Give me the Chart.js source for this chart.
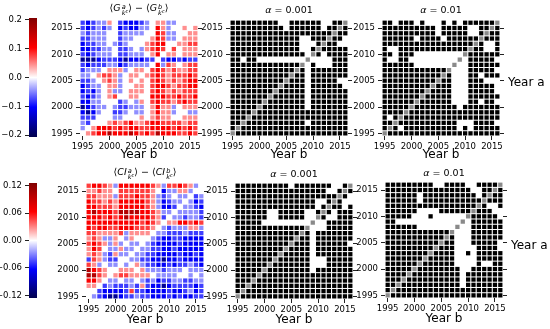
<!DOCTYPE html>
<html>
<head>
<meta charset="utf-8">
<script src="https://cdn.jsdelivr.net/npm/chart.js@4.4.0/dist/chart.umd.min.js"></script>
<style>
body { margin: 0; width: 550px; height: 329px; position: relative; overflow: hidden; background: #fff; font-family: "DejaVu Sans"; }
canvas, .t { position: absolute; }
.t { font-size: 9.5px; white-space: nowrap; transform: translate(-50%, -50%); color: #000; line-height: 1; }
.lab { position: absolute; font-size: 12px; color: #000; white-space: nowrap; line-height: 1; transform: translateY(-50%); }
.ss { display: inline-flex; flex-direction: column; font-size: 0.7em; line-height: 1; vertical-align: 0.35em; margin-left: 1px; }
.ss sup { font-size: 0.75em; vertical-align: 0.45em; line-height: 0; }
</style>
</head>
<body>
<canvas id="cb1" width="40" height="135" style="left:0;top:10px"></canvas>
<canvas id="h1" width="154" height="152" style="left:50px;top:12px"></canvas>
<canvas id="h2" width="154" height="152" style="left:200px;top:12px"></canvas>
<canvas id="h3" width="154" height="152" style="left:352px;top:12px"></canvas>
<canvas id="cb2" width="40" height="131" style="left:0;top:175px"></canvas>
<canvas id="h4" width="154" height="154" style="left:56px;top:175px"></canvas>
<canvas id="h5" width="154" height="154" style="left:205px;top:175px"></canvas>
<canvas id="h6" width="154" height="154" style="left:355px;top:174px"></canvas>

<div class="t" style="left:139px;top:10px">⟨<i>G</i><span class="ss"><i>a</i><span><i>k</i><sup><i>c</i></sup></span></span>⟩ − ⟨<i>G</i><span class="ss"><i>b</i><span><i>k</i><sup><i>c</i></sup></span></span>⟩</div>
<div class="t" style="left:289px;top:10px"><i>α</i> = 0.001</div>
<div class="t" style="left:441px;top:10px"><i>α</i> = 0.01</div>
<div class="t" style="left:145px;top:174px">⟨<i>CI</i><span class="ss"><i>a</i><span><i>k</i><sup><i>c</i></sup></span></span>⟩ − ⟨<i>CI</i><span class="ss"><i>b</i><span><i>k</i><sup><i>c</i></sup></span></span>⟩</div>
<div class="t" style="left:294px;top:174px"><i>α</i> = 0.001</div>
<div class="t" style="left:444px;top:173px"><i>α</i> = 0.01</div>
<div class="lab" style="left:508px;top:82px">Year a</div>
<div class="lab" style="left:511px;top:245px">Year a</div>

<script>
var years = [1995, 1996, 1997, 1998, 1999, 2000, 2001, 2002, 2003, 2004, 2005,
             2006, 2007, 2008, 2009, 2010, 2011, 2012, 2013, 2014, 2015, 2016];
var tickYears = [1995, 2000, 2005, 2010, 2015];
var gTicks = [-0.2, -0.1, 0, 0.1, 0.2];
var ciTicks = [-0.12, -0.06, 0, 0.06, 0.12];

// difference cells: one string per Year a (2016 at top), one char per Year b (1995 first)
// shade as a fraction of the colour range
var shade = { N: -0.8, B: -0.52, b: -0.38, l: -0.22, '0': 0, p: 0.22, r: 0.38, R: 0.52, D: 0.8 };

var gDiff = [
  "bBbllp0bBBBbl0ppll0000",
  "bBblbl0BbBBll0Rpl00p0p",
  "lblll00bllll00Rrll00pp",
  "bblll00bll000pRrll0ppp",
  "Bbbll0lbl000prRR00pprr",
  "BBbbll0bbl0lprRr0r0ppp",
  "bBblll0bblll0pR0pp0ppp",
  "NNNBbbbBNBBBbb0bBBbBbb",
  "bBbbbllBbllll0Rlrp0prr",
  "blll0pppl0pp0rRrprpprr",
  "ll0prrpl0pp0prRrprrrRr",
  "bbl0prpl0p0p0rRrprprRR",
  "Bbll0ppl00pp0rRRrprrRR",
  "BbBl0pll0ppp0rRrprprrr",
  "bBbl0pr00pp00RRRrrRrrR",
  "BBll000bl0lp0rRrrprRrr",
  "NBbll0lbblll0pRppl0ppp",
  "BNBl00bbl0ll0pRppl00ll",
  "bbb000ll000p0prpp00ppp",
  "lb000prprRpprRRrrrrprr",
  "l0pRRRrRrRRrrRRRRrRrRr",
  "0prRRDRRRDRrRrDRRRrrRr"
];

var ciDiff = [
  "rRRrplRRRRRRrplrrRrpl0",
  "pprpp0rrrrrrp0Bllppl00",
  "rrppplrrrRrrplbl0ll0bl",
  "RrrprpRRRRRrplBbll0lBb",
  "RRrrrpRRRRRrplBBb0llbB",
  "RDRRRrDDDDRRrpll0llllb",
  "RRRrRrRDRRRRrpb0llbllb",
  "RRRRRRRRRRrRrp0ppRRrRr",
  "RrRRrrRRRrrrp0lblllppl",
  "rrpppprlpppp0llbbblbbb",
  "prpllp0lp000lbBBbbBBBB",
  "rRrplpl0ll0lbBBBBbBBBB",
  "pRr0llpll0llbbBBbBBBBB",
  "prplbpll0llbbBBBBbBBbB",
  "brplbb00llbbBBNBBbBBBB",
  "rpl0ll0l0plbbBBbBbblbB",
  "DRrp00ppp0plllblll0lll",
  "DDrp0prrpppp0llll00l0l",
  "RRp0ll0ll0lblBbbllbbll",
  "pp0blbbblbpbBBNBbbbbBb",
  "00bBBBBbrbbBBBBbBBblBb",
  "0lbBNNBbblbbBBBbBbBBbb"
];

// significance cells: # significant, . not significant, g same year
var gSig001 = [
  "#########..######..##g",
  "##########.######.##g#",
  "###################g##",
  "#############..###g##.",
  "#############...#g##..",
  "#############..#g#####",
  "##############.g#.####",
  "##.##.........g....###",
  "#############g.#...###",
  "############g#.#######",
  "###########g##.#######",
  "##########g###.#####..",
  "#########g####.######.",
  "########g#####.#######",
  "#######g######.#######",
  "######g#######.#######",
  "#####g########.#######",
  "####g#################",
  "###g##################",
  "##g###########.#######",
  "#g####################",
  "g#####################"
];

var gSig01 = [
  "##.###.#...#.#.######g",
  "##########.#####..##g#",
  "##########.#####..#g##",
  "######.####.######g###",
  "#################g#..#",
  "#..#############g##..#",
  "##.###.........g######",
  "#..##.........g.#####.",
  "######.......g..######",
  "############g...#####.",
  "###########g#...##.###",
  "##########g##...###...",
  "#########g###...#####.",
  "########g####...#####.",
  "#######g#####...######",
  "######g######...##.##.",
  "#####g########.#######",
  "####g#################",
  "#.#g##################",
  "##g###########...####.",
  "#g#.##########.#.#####",
  "g#####################"
];

var ciSig001 = [
  "##########.#######..#g",
  "#################..#g#",
  "###################g#.",
  "###############..#g#..",
  "###############.#g##.#",
  "######..#####..#g#.###",
  "######..#####..g#..###",
  "#####.........g..#####",
  "#############g...#####",
  "############g#.#######",
  "###########g##.#######",
  "##########g###.######.",
  "#########g####.#######",
  "########g#####.#######",
  "#######g######...#####",
  "######g#######...#####",
  "#####g########.#######",
  "####g#################",
  "###g##################",
  "##g###################",
  "#g####################",
  "g#####################"
];

var ciSig01 = [
  "#########..####..####g",
  "################..##g#",
  "######.##########.#g##",
  "######.###########g###",
  "#################g#..#",
  "######....######g###..",
  "#####...#......g#####.",
  "##............g.######",
  "######.......g..######",
  "############g...######",
  "###########g#...######",
  "##########g##...#####.",
  "#########g###....####.",
  "########g####..#.#####",
  "#######g#####....#####",
  "######g######....#..##",
  "#####g########..######",
  "####g#########.#######",
  "###g##########.#######",
  "##g###########.#######",
  "#g####################",
  "g#####################"
];

Chart.defaults.font.family = "DejaVu Sans";
Chart.defaults.color = "#000";

var seismicStops = [[-1, [0, 0, 77]], [-0.5, [0, 0, 255]], [0, [255, 255, 255]], [0.5, [255, 0, 0]], [1, [128, 0, 0]]];
function seismic(u) {
  u = Math.max(-1, Math.min(1, u));
  for (var i = 1; i < seismicStops.length; i++) {
    if (u <= seismicStops[i][0]) {
      var a = seismicStops[i - 1], b = seismicStops[i], t = (u - a[0]) / (b[0] - a[0]);
      return 'rgb(' + [0, 1, 2].map(function (k) { return Math.round(a[1][k] + t * (b[1][k] - a[1][k])); }).join(',') + ')';
    }
  }
}

function diffColor(k) { return seismic(shade[k]); }
function sigColor(k) { return k === '#' ? '#000' : (k === 'g' ? '#8a8a8a' : '#fff'); }

function setTicks(list) {
  return function (s) { s.ticks = list.map(function (v) { return { value: v }; }); };
}

var tickGrid = { drawOnChartArea: false, drawTicks: true, tickLength: 4, color: '#222', lineWidth: 1 };

function heatmap(id, rows, colorOf, xh) {
  var pts = [];
  rows.forEach(function (row, r) {
    for (var c = 0; c < row.length; c++) {
      pts.push({ x: years[c], y: years[years.length - 1 - r], k: row[c] });
    }
  });
  var radius = function (ctx) {
    var a = ctx.chart.chartArea;
    if (!a) return 2;
    return ((a.right - a.left) / years.length - 1.1) / Math.SQRT2;
  };
  var lo = years[0] - 0.5, hi = years[years.length - 1] + 0.5;
  return new Chart(document.getElementById(id), {
    type: 'scatter',
    data: {
      datasets: [{
        data: pts,
        pointStyle: 'rect',
        pointRadius: radius,
        pointHoverRadius: radius,
        borderWidth: 0,
        backgroundColor: function (ctx) { return ctx.raw ? colorOf(ctx.raw.k) : '#fff'; }
      }]
    },
    options: {
      responsive: false,
      animation: false,
      events: [],
      layout: { padding: { top: 6, left: 0, right: 0, bottom: 0 } },
      plugins: { legend: { display: false }, tooltip: { enabled: false } },
      scales: {
        x: {
          type: 'linear', min: lo, max: hi,
          afterBuildTicks: setTicks(tickYears),
          afterFit: function (s) { s.height = xh; },
          grid: tickGrid, border: { display: false },
          ticks: { font: { size: 8.5 }, padding: 2, autoSkip: false, maxRotation: 0, callback: function (v) { return String(v); } },
          title: { display: true, text: 'Year b', font: { size: 12 }, padding: { top: 0, bottom: 2 } }
        },
        y: {
          type: 'linear', position: 'left', min: lo, max: hi,
          afterBuildTicks: setTicks(tickYears),
          afterFit: function (s) { s.width = 30; },
          grid: tickGrid, border: { display: false },
          ticks: { font: { size: 8.5 }, padding: 3, autoSkip: false, callback: function (v) { return String(v); } }
        },
        y2: {
          type: 'linear', position: 'right', min: lo, max: hi,
          afterBuildTicks: setTicks(tickYears),
          afterFit: function (s) { s.width = 6; },
          grid: tickGrid, border: { display: false },
          ticks: { display: false }
        }
      }
    }
  });
}

function colorbar(id, ticks, vmax, digits) {
  return new Chart(document.getElementById(id), {
    type: 'bar',
    data: {
      labels: [''],
      datasets: [{
        data: [[-vmax, vmax]],
        barPercentage: 1, categoryPercentage: 1, borderWidth: 0,
        backgroundColor: function (ctx) {
          var a = ctx.chart.chartArea;
          if (!a) return '#fff';
          var g = ctx.chart.ctx.createLinearGradient(0, a.bottom, 0, a.top);
          seismicStops.forEach(function (s) {
            g.addColorStop((s[0] + 1) / 2, 'rgb(' + s[1].join(',') + ')');
          });
          return g;
        }
      }]
    },
    options: {
      responsive: false,
      animation: false,
      events: [],
      layout: { padding: { top: 8, bottom: 8, right: 3, left: 0 } },
      plugins: { legend: { display: false }, tooltip: { enabled: false } },
      scales: {
        x: { display: false },
        y: {
          min: -vmax, max: vmax, position: 'left',
          afterBuildTicks: setTicks(ticks),
          afterFit: function (s) { s.width = 29; },
          grid: tickGrid, border: { display: false },
          ticks: {
            font: { size: 8.5 }, padding: 3,
            callback: function (v) { return (v < 0 ? '\u2212' : '') + Math.abs(v).toFixed(digits); }
          }
        }
      }
    }
  });
}

colorbar('cb1', gTicks, 0.206, 1);
colorbar('cb2', ciTicks, 0.1255, 2);
heatmap('h1', gDiff, diffColor, 28);
heatmap('h2', gSig001, sigColor, 28);
heatmap('h3', gSig01, sigColor, 28);
heatmap('h4', ciDiff, diffColor, 30);
heatmap('h5', ciSig001, sigColor, 30);
heatmap('h6', ciSig01, sigColor, 30);
</script>
</body>
</html>
